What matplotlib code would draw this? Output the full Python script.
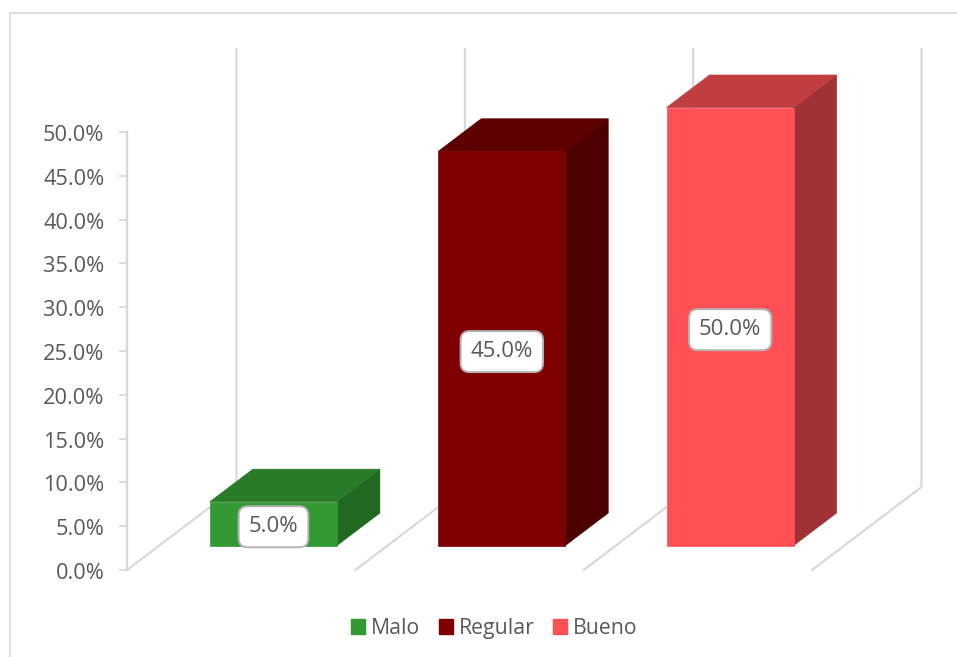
import matplotlib
matplotlib.use('Agg')
import matplotlib.pyplot as plt
from matplotlib.patches import Patch, Polygon
from matplotlib.lines import Line2D
from matplotlib.transforms import ScaledTranslation

categorias = ['Malo', 'Regular', 'Bueno']
valores = [5.0, 45.0, 50.0]
ticks = [0, 5, 10, 15, 20, 25, 30, 35, 40, 45, 50]

cor_frente = ['#339933', '#7F0000', '#FF5056']
cor_topo = ['#297A29', '#5F0000', '#C03D41']
cor_lado = ['#216821', '#4D0000', '#A03134']
cor_linha = '#D9D9D9'
cor_texto = '#595959'

plt.rcParams['font.family'] = ['Open Sans', 'DejaVu Sans']

L, A = 957, 657
fig = plt.figure(figsize=(L / 100, A / 100), dpi=100)
ax = fig.add_axes([127 / L, (A - 570) / A, 685 / L, 438 / A])
ax.set_xlim(0, 3)
ax.set_ylim(0, 50)

# deslocamento do eixo de profundidade, em unidades dos dados
prof_x = 109.5 / 228.33
prof_y = 83 / 8.76


def projetar(x, y, p):
    return (x + p * prof_x, y + p * prof_y)


# parede do fundo e chao
for i in range(4):
    x0, y0 = projetar(i, 0, 0)
    x1, y1 = projetar(i, 0, 1)
    x2, y2 = projetar(i, 50, 1)
    ax.plot([x0, x1, x2], [y0, y1, y2], color=cor_linha, lw=1.6, clip_on=False,
            zorder=1, solid_joinstyle='miter')

# barras em perspectiva
largura = 127 / 228.33
p_ini = 24.5 / 83
p_fim = 57 / 83
for i, v in enumerate(valores):
    esq = i + 0.5 - largura / 2
    dir_ = esq + largura
    frente = [projetar(esq, 0, p_ini), projetar(dir_, 0, p_ini),
              projetar(dir_, v, p_ini), projetar(esq, v, p_ini)]
    topo = [projetar(esq, v, p_ini), projetar(dir_, v, p_ini),
            projetar(dir_, v, p_fim), projetar(esq, v, p_fim)]
    lado = [projetar(dir_, 0, p_ini), projetar(dir_, 0, p_fim),
            projetar(dir_, v, p_fim), projetar(dir_, v, p_ini)]
    for pts, cor in [(lado, cor_lado[i]), (topo, cor_topo[i]), (frente, cor_frente[i])]:
        ax.add_patch(Polygon(pts, closed=True, facecolor=cor, edgecolor=cor, lw=0.5,
                             clip_on=False, zorder=3))
    cx, cy = projetar(i + 0.5, v / 2, p_ini)
    ax.annotate('%.1f%%' % v, (cx, cy), xytext=(0, -0.5), textcoords='offset points',
                ha='center', va='center_baseline', fontsize=16, color=cor_texto, zorder=5,
                bbox=dict(boxstyle='round,pad=0.45,rounding_size=0.4', facecolor='white',
                          edgecolor='#B3B3B3', lw=1.4))

ax.patch.set_visible(False)
for lado_ax in ['top', 'right', 'bottom']:
    ax.spines[lado_ax].set_visible(False)
ax.spines['left'].set_color(cor_linha)
ax.spines['left'].set_linewidth(1.6)
ax.set_xticks([])
ax.set_yticks(ticks)
ax.set_yticklabels(['%.1f%%' % t for t in ticks])
ax.tick_params(axis='y', length=5.8, width=1.3, color=cor_linha, labelcolor=cor_texto,
               labelsize=15.7, pad=10.5)
for rotulo in ax.get_yticklabels():
    rotulo.set_transform(rotulo.get_transform() + ScaledTranslation(0, -0.01, fig.dpi_scale_trans))

# legenda
handles = [Patch(facecolor=c, edgecolor=c) for c in cor_frente]
fig.legend(handles, categorias, loc='center', bbox_to_anchor=(494.5 / L, (A - 628.5) / A),
           ncol=3, frameon=False, fontsize=15.3, labelcolor=cor_texto, handlelength=0.65,
           handleheight=0.65, handletextpad=0.28, columnspacing=0.88)

# moldura do grafico
fig.add_artist(Line2D([10 / L, 10 / L, 1], [0, (A - 13) / A, (A - 13) / A],
                      color=cor_linha, lw=1.2))

fig.savefig('out.png', dpi=100)
